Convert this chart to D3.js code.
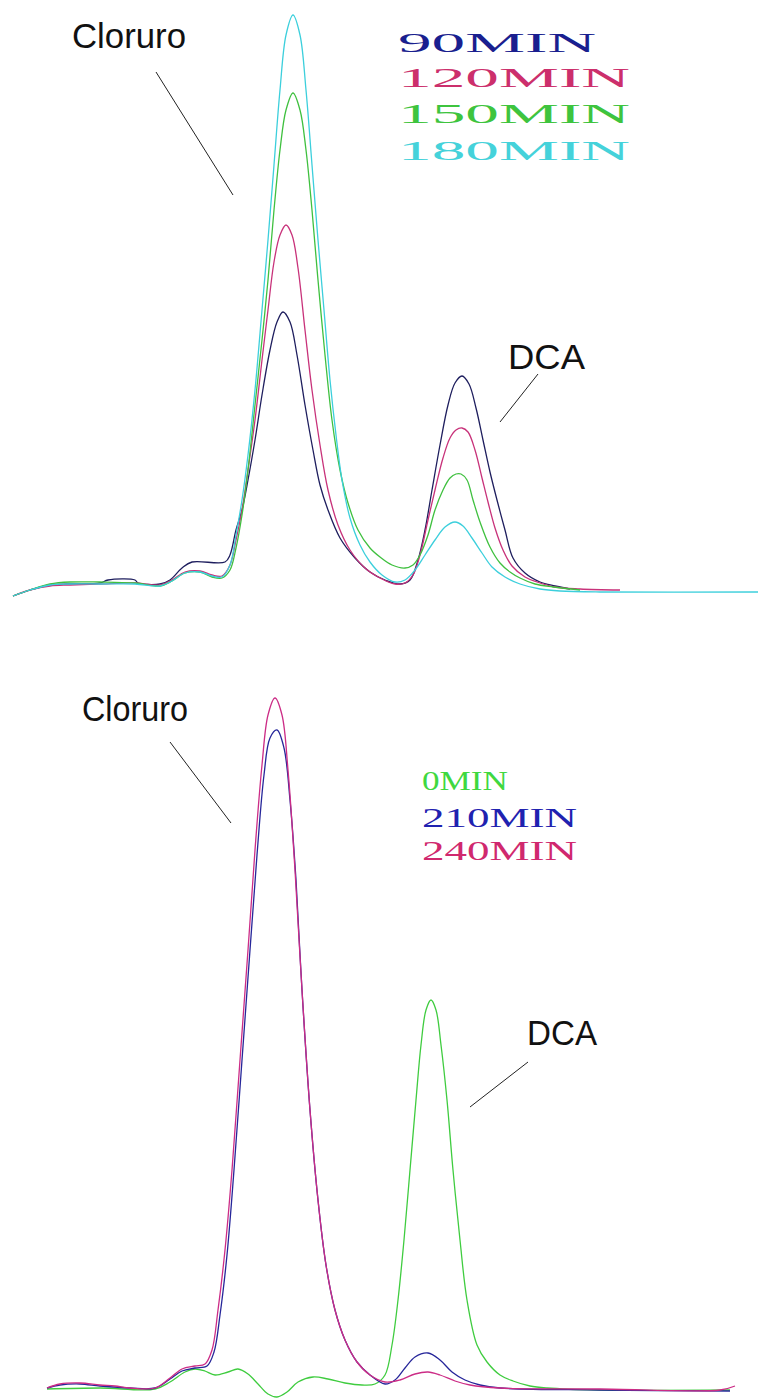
<!DOCTYPE html>
<html>
<head>
<meta charset="utf-8">
<script src="https://cdn.jsdelivr.net/npm/d3@7"></script>
<style>
  html, body { margin: 0; padding: 0; background: #fff; }
  svg { display: block; }
</style>
</head>
<body>
<svg id="chart" width="758" height="1398"></svg>
<script>
// Chromatogram traces: [retention position, detector signal]
// Upper run (photolysis series)
const run90 = [
  [13,-3],[30,3],[50,8],[70,9],[100,10],[108,13],[135,13],[138,10],[160,9],[170,13],
  [182,25],[192,31],[225,31],[230,38],[236,63],[242,83],[248,113],[255,153],[262,198],
  [270,243],[277,271],[283,281],[290,271],[297,238],[305,188],[313,143],[320,108],
  [328,83],[340,55],[355,35],[370,21],[385,13],[400,9],[410,13],[418,33],[425,63],
  [432,103],[440,148],[448,188],[455,210],[462,217],[469,209],[476,185],[483,153],
  [490,121],[497,93],[505,63],[513,35],[525,20],[540,11],[555,7],[570,4]
];
const run120 = [
  [13,-3],[30,3],[50,7],[70,8],[100,9],[135,10],[160,8],[172,13],[185,21],[200,22],
  [212,18],[222,17],[230,28],[236,53],[242,83],[248,123],[255,173],[262,233],[268,283],
  [274,331],[280,358],[286,368],[292,358],[298,325],[305,263],[312,203],[320,148],
  [328,103],[338,68],[350,43],[365,25],[380,15],[395,9],[405,10],[413,18],[420,38],
  [428,73],[435,103],[443,135],[450,155],[456,163],[462,165],[468,161],[475,143],
  [482,115],[488,91],[495,65],[503,43],[512,27],[525,16],[537,11],[555,6],[580,4],[620,3]
];
const run150 = [
  [13,-3],[30,3],[50,9],[70,11],[100,11],[135,10],[160,7],[172,12],[185,20],[200,21],
  [212,16],[222,15],[230,23],[236,45],[242,78],[248,123],[255,188],[262,253],[268,313],
  [274,383],[280,443],[286,483],[293,500],[300,483],[306,443],[312,383],[318,313],
  [325,238],[332,173],[340,123],[348,90],[358,63],[370,45],[380,36],[392,28],[405,25],
  [413,28],[420,38],[428,58],[435,83],[443,103],[450,115],[456,119],[461,119],[467,113],
  [473,93],[480,71],[490,46],[500,30],[510,21],[520,15],[535,9],[553,6],[580,3]
];
const run180 = [
  [13,-3],[30,3],[50,8],[70,9],[100,9],[135,9],[160,7],[172,12],[185,20],[200,21],
  [212,17],[222,16],[230,28],[236,58],[242,93],[248,138],[255,203],[262,283],[268,353],
  [274,428],[280,503],[286,558],[293,578],[300,558],[306,503],[312,428],[318,353],
  [324,283],[330,213],[336,158],[342,113],[350,75],[360,48],[370,31],[382,18],[395,11],
  [405,13],[415,23],[425,38],[435,53],[445,66],[455,71],[463,67],[472,55],[482,40],
  [492,26],[505,16],[520,9],[540,4],[560,2],[600,1],[758,1]
];

// Lower run (start and end of treatment)
const run0 = [
  [47,2],[100,3],[155,2],[170,9],[185,19],[195,22],[205,20],[215,16],[228,19],[238,22],
  [248,17],[258,7],[268,-3],[277,-6],[287,-1],[298,9],[313,14],[328,12],[345,8],[362,6],
  [375,7],[385,16],[392,46],[398,91],[404,151],[410,221],[416,291],[421,346],[426,381],
  [431,391],[436,381],[441,346],[447,291],[453,221],[460,151],[467,91],[477,46],[487,29],
  [500,16],[513,10],[530,5],[547,3],[600,1],[730,1]
];
const run210 = [
  [47,3],[60,6],[80,7],[100,5],[130,3],[155,3],[170,12],[182,20],[195,23],[207,25],
  [214,39],[220,76],[227,136],[234,221],[242,331],[250,441],[257,536],[264,616],[270,653],
  [277,661],[284,643],[290,591],[296,511],[302,401],[310,281],[318,191],[326,126],
  [335,81],[345,51],[357,29],[370,16],[385,7],[395,11],[405,23],[415,34],[428,38],
  [440,31],[452,19],[465,11],[480,6],[500,3],[600,1],[730,0]
];
const run240 = [
  [47,3],[60,7],[80,8],[100,6],[115,5],[130,3],[155,3],[170,13],[182,22],[195,25],
  [205,27],[212,41],[218,81],[225,141],[232,221],[240,331],[248,441],[255,541],[262,626],
  [268,676],[275,693],[282,676],[288,621],[295,521],[302,401],[310,281],[318,191],
  [326,126],[335,81],[345,51],[357,29],[370,16],[385,9],[400,11],[415,17],[428,19],
  [440,16],[455,10],[470,6],[500,3],[600,2],[720,1],[735,5]
];

const upperSeries = [
  { label: "90MIN",  values: run90,  line: "#1e1e5e", text: "#1a1f8f" },
  { label: "120MIN", values: run120, line: "#c8327a", text: "#cc2f6c" },
  { label: "150MIN", values: run150, line: "#3fc03f", text: "#3ec43e" },
  { label: "180MIN", values: run180, line: "#3ccfdc", text: "#45d2da" }
];
const lowerSeries = [
  { label: "0MIN",   values: run0,   line: "#3fcc3f", text: "#3fd83f" },
  { label: "210MIN", values: run210, line: "#26269a", text: "#1f22b0" },
  { label: "240MIN", values: run240, line: "#cc2c86", text: "#d0286e" }
];

const svg = d3.select("#chart");
const x = d3.scaleLinear().domain([0, 758]).range([0, 758]);
const yUpper = d3.scaleLinear().domain([0, 580]).range([593, 13]);
const yLower = d3.scaleLinear().domain([0, 693]).range([1391, 698]);

function drawRun(series, y) {
  const line = d3.line()
    .x(d => x(d[0]))
    .y(d => y(d[1]))
    .curve(d3.curveCatmullRom.alpha(0.5));
  svg.append("g")
    .selectAll("path")
    .data(series)
    .join("path")
    .attr("d", s => line(s.values))
    .attr("fill", "none")
    .attr("stroke", s => s.line)
    .attr("stroke-width", 1.3)
    .attr("stroke-linejoin", "round");
}

function drawLegend(series, x0, baselines, widths) {
  svg.append("g")
    .selectAll("text")
    .data(series)
    .join("text")
    .attr("x", x0)
    .attr("y", (d, i) => baselines[i])
    .attr("textLength", (d, i) => widths[i])
    .attr("lengthAdjust", "spacingAndGlyphs")
    .attr("font-family", "'Liberation Serif', 'DejaVu Serif', serif")
    .attr("font-size", 27)
    .attr("fill", d => d.text)
    .text(d => d.label);
}

function annotate(label, tx, ty, tw, from, to) {
  svg.append("text")
    .attr("x", tx).attr("y", ty)
    .attr("textLength", tw)
    .attr("lengthAdjust", "spacingAndGlyphs")
    .attr("font-family", "'Liberation Sans', Arial, sans-serif")
    .attr("font-size", 35)
    .attr("fill", "#111")
    .text(label);
  svg.append("line")
    .attr("x1", from[0]).attr("y1", from[1])
    .attr("x2", to[0]).attr("y2", to[1])
    .attr("stroke", "#222")
    .attr("stroke-width", 1);
}

drawRun(upperSeries, yUpper);
drawRun(lowerSeries, yLower);

drawLegend(upperSeries, 398, [52, 87, 123, 160], [198, 232, 232, 232]);
drawLegend(lowerSeries, 422, [790, 827, 860], [86, 155, 155]);

annotate("Cloruro", 72, 48, 114, [156, 72], [233, 195]);
annotate("DCA", 508, 369, 77, [538, 374], [500, 422]);
annotate("Cloruro", 82, 721, 106, [170, 742], [231, 823]);
annotate("DCA", 527, 1045, 70, [528, 1062], [470, 1107]);
</script>
</body>
</html>
